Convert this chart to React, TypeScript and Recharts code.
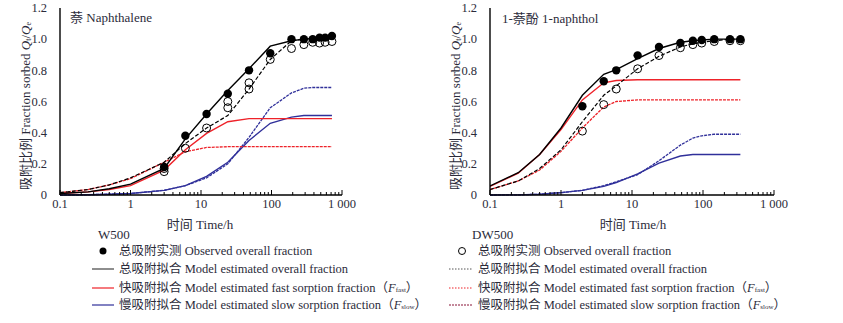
import React from "react";
import { ComposedChart, Line, Scatter, XAxis, YAxis } from "recharts";

const serif = "'Liberation Serif', 'Times New Roman', 'Noto Sans CJK SC', serif";
const ink = "#2b2b3a";
const red = "#ee2229";
const blue = "#30309a";
const maroon = "#8a1538";

const xMajorTicks = [0.1, 1, 10, 100, 1000];
const xMinorTicks = [
  0.2, 0.3, 0.4, 0.5, 0.6, 0.7, 0.8, 0.9,
  2, 3, 4, 5, 6, 7, 8, 9,
  20, 30, 40, 50, 60, 70, 80, 90,
  200, 300, 400, 500, 600, 700, 800, 900,
];
const yTicks = [0, 0.2, 0.4, 0.6, 0.8, 1.0, 1.2];

// 萘 Naphthalene
const napLineTimes = [0.1, 0.25, 0.5, 1, 3, 6, 12, 24, 48, 96, 192, 288, 384, 480, 576, 720];
const napW500Total = [0.01, 0.02, 0.04, 0.07, 0.17, 0.36, 0.52, 0.67, 0.81, 0.955, 0.99, 1.0, 1.005, 1.01, 1.01, 1.015];
const napDW500Total = [0.015, 0.035, 0.065, 0.11, 0.21, 0.33, 0.43, 0.51, 0.68, 0.87, 0.99, 1.0, 1.0, 1.0, 1.0, 1.0];
const napW500Fast = [0.01, 0.02, 0.035, 0.06, 0.16, 0.29, 0.395, 0.47, 0.49, 0.49, 0.49, 0.49, 0.49, 0.49, 0.49, 0.49];
const napDW500Fast = [0.015, 0.035, 0.065, 0.105, 0.21, 0.278, 0.305, 0.31, 0.31, 0.31, 0.31, 0.31, 0.31, 0.31, 0.31, 0.31];
const napW500Slow = [0, 0.002, 0.005, 0.01, 0.03, 0.06, 0.12, 0.21, 0.35, 0.46, 0.5, 0.51, 0.51, 0.51, 0.51, 0.51];
const napDW500Slow = [0, 0.002, 0.005, 0.01, 0.03, 0.06, 0.11, 0.2, 0.37, 0.56, 0.655, 0.685, 0.69, 0.69, 0.69, 0.69];
const napObsW500Times = [3, 6, 12, 24, 48, 96, 192, 288, 384, 480, 576, 720];
const napObsW500 = [0.18, 0.38, 0.52, 0.65, 0.8, 0.91, 1.0, 1.0, 1.0, 1.01, 1.01, 1.02];
const napObsDW500Times = [3, 3, 6, 12, 24, 24, 48, 48, 96, 192, 288, 384, 480, 576, 720];
const napObsDW500 = [0.15, 0.17, 0.3, 0.43, 0.6, 0.56, 0.72, 0.68, 0.87, 0.94, 0.965, 0.98, 0.975, 0.98, 0.985];

// 1-萘酚 1-naphthol
const nolLineTimes = [0.1, 0.25, 0.5, 1, 2, 4, 6, 12, 24, 48, 72, 96, 144, 240, 336];
const nolW500Total = [0.058, 0.143, 0.26, 0.43, 0.64, 0.775, 0.805, 0.875, 0.94, 0.98, 0.99, 0.995, 1.0, 1.0, 1.0];
const nolDW500Total = [0.035, 0.09, 0.17, 0.29, 0.47, 0.64, 0.7, 0.81, 0.89, 0.95, 0.97, 0.98, 0.99, 1.0, 1.0];
const nolW500Fast = [0.055, 0.14, 0.26, 0.42, 0.61, 0.72, 0.735, 0.74, 0.74, 0.74, 0.74, 0.74, 0.74, 0.74, 0.74];
const nolDW500Fast = [0.035, 0.09, 0.16, 0.28, 0.43, 0.565, 0.6, 0.61, 0.61, 0.61, 0.61, 0.61, 0.61, 0.61, 0.61];
const nolW500Slow = [0, 0.001, 0.005, 0.015, 0.03, 0.055, 0.08, 0.135, 0.205, 0.25, 0.26, 0.26, 0.26, 0.26, 0.26];
const nolDW500Slow = [0, 0.001, 0.005, 0.015, 0.03, 0.06, 0.085, 0.13, 0.22, 0.32, 0.365, 0.38, 0.39, 0.39, 0.39];
const nolObsTimes = [2, 4, 6, 12, 24, 48, 72, 96, 144, 240, 336];
const nolObsW500 = [0.57, 0.73, 0.8, 0.896, 0.95, 0.975, 0.99, 0.995, 1.0, 1.0, 1.0];
const nolObsDW500 = [0.41, 0.58, 0.68, 0.81, 0.895, 0.945, 0.965, 0.975, 0.985, 0.99, 0.99];

const rows = (times: number[], cols: Record<string, number[]>) =>
  times.map((t, i) => {
    const r: Record<string, number> = { t };
    for (const k of Object.keys(cols)) r[k] = cols[k][i];
    return r;
  });
const pts = (times: number[], vals: number[]) => times.map((t, i) => ({ t, v: vals[i] }));

const napRows = rows(napLineTimes, {
  wTot: napW500Total, dTot: napDW500Total, wFast: napW500Fast,
  dFast: napDW500Fast, wSlow: napW500Slow, dSlow: napDW500Slow,
});
const nolRows = rows(nolLineTimes, {
  wTot: nolW500Total, dTot: nolDW500Total, wFast: nolW500Fast,
  dFast: nolDW500Fast, wSlow: nolW500Slow, dSlow: nolDW500Slow,
});
const allXTicks = [...xMajorTicks, ...xMinorTicks].sort((a, b) => a - b);

const fmtX = (v: number) => (v === 1000 ? "1 000" : String(v));
const fmtY = (v: number) => (v === 0 ? "0" : v.toFixed(1));

const filledDot = (p: any) => <circle cx={p.cx} cy={p.cy} r={4.2} fill="#000" />;
const openDot = (p: any) => <circle cx={p.cx} cy={p.cy} r={4} fill="none" stroke="#000" strokeWidth={1} />;

// x ticks point up into the plot; only decades get a label
const XTick = (p: any) => {
  const v = p.payload.value;
  const major = xMajorTicks.includes(v);
  return (
    <g>
      <line x1={p.x} x2={p.x} y1={p.y} y2={p.y - (major ? 5 : 3)} stroke="#000" strokeWidth={1} />
      {major && (
        <text x={p.x} y={p.y + 4} dy="0.72em" textAnchor="middle" fontSize={12.5} fontFamily={serif} fill={ink}>
          {fmtX(v)}
        </text>
      )}
    </g>
  );
};
const YTick = (p: any) => (
  <text x={p.x} y={p.y} dy="0.34em" textAnchor="end" fontSize={12.5} fontFamily={serif} fill={ink}>
    {fmtY(p.payload.value)}
  </text>
);

function Panel({ width, yWidth, data, filled, open }: any) {
  return (
    <ComposedChart width={width} height={225} data={data} margin={{ top: 8, right: 18, left: 0, bottom: 0 }}>
      <XAxis dataKey="t" type="number" scale="log" domain={[0.1, 1000]} allowDataOverflow
        ticks={allXTicks} interval={0} tickLine={false} tickSize={0} tickMargin={0} height={30}
        stroke="#000" strokeWidth={1.4} tick={XTick} />
      <YAxis type="number" domain={[0, 1.2]} ticks={yTicks} interval={0}
        width={yWidth} tickLine={false} tickMargin={7} stroke="#000" strokeWidth={1.4} tick={YTick} />
      <Line dataKey="dSlow" type="linear" stroke={blue} strokeWidth={1.3} strokeDasharray="3 1" dot={false} isAnimationActive={false} />
      <Line dataKey="wSlow" type="linear" stroke={blue} strokeWidth={1.4} dot={false} isAnimationActive={false} />
      <Line dataKey="dFast" type="linear" stroke={red} strokeWidth={1.3} strokeDasharray="3 1" dot={false} isAnimationActive={false} />
      <Line dataKey="wFast" type="linear" stroke={red} strokeWidth={1.4} dot={false} isAnimationActive={false} />
      <Line dataKey="dTot" type="linear" stroke="#000" strokeWidth={1.2} strokeDasharray="4 2" dot={false} isAnimationActive={false} />
      <Line dataKey="wTot" type="linear" stroke="#000" strokeWidth={1.4} dot={false} isAnimationActive={false} />
      <Scatter data={filled} dataKey="v" shape={filledDot} isAnimationActive={false} />
      <Scatter data={open} dataKey="v" shape={openDot} isAnimationActive={false} />
    </ComposedChart>
  );
}

function YTitle({ x, y }: { x: number; y: number }) {
  return (
    <text x={x} y={y} transform={`rotate(-90 ${x} ${y})`} textAnchor="middle" dominantBaseline="central"
      fontSize={13} fill={ink}>
      吸附比例 Fraction sorbed <tspan fontStyle="italic">Q</tspan>
      <tspan fontSize={8} dy={3}>t</tspan>
      <tspan dy={-3}>/</tspan>
      <tspan fontStyle="italic">Q</tspan>
      <tspan fontSize={8} dy={3}>e</tspan>
    </text>
  );
}

function Sub({ name }: { name: string }) {
  return (
    <>
      （<tspan fontStyle="italic">F</tspan>
      <tspan fontSize={7} dy={2}>{name}</tspan>
      <tspan dy={-2}>）</tspan>
    </>
  );
}

const rowsY = [251, 269, 288, 305];

export default function App() {
  return (
    <div style={{ position: "absolute", left: 0, top: 0, width: 843, height: 323, background: "#fff", fontFamily: serif }}>
      <div style={{ position: "absolute", left: 0, top: 0 }}>
        <Panel width={360} yWidth={60} data={napRows}
          filled={pts(napObsW500Times, napObsW500)} open={pts(napObsDW500Times, napObsDW500)} />
      </div>
      <div style={{ position: "absolute", left: 420, top: 0 }}>
        <Panel width={372} yWidth={70} data={nolRows}
          filled={pts(nolObsTimes, nolObsW500)} open={pts(nolObsTimes, nolObsDW500)} />
      </div>
      <svg width={843} height={323} style={{ position: "absolute", left: 0, top: 0, pointerEvents: "none" }}
        fontFamily={serif} fill={ink}>
        <YTitle x={25} y={106} />
        <YTitle x={455} y={106} />
        <text x={70} y={17} fontSize={13} dominantBaseline="central">萘 Naphthalene</text>
        <text x={502} y={18} fontSize={13} dominantBaseline="central">1-萘酚 1-naphthol</text>
        <text x={200} y={224} fontSize={13} textAnchor="middle" dominantBaseline="central">时间 Time/h</text>
        <text x={633} y={224} fontSize={13} textAnchor="middle" dominantBaseline="central">时间 Time/h</text>
        <text x={98} y={234} fontSize={13} dominantBaseline="central">W500</text>
        <text x={472} y={234} fontSize={13} dominantBaseline="central">DW500</text>

        <circle cx={103} cy={rowsY[0]} r={3.5} fill="#000" />
        <line x1={92} x2={114} y1={rowsY[1]} y2={rowsY[1]} stroke="#444" strokeWidth={1.2} />
        <line x1={92} x2={114} y1={rowsY[2]} y2={rowsY[2]} stroke={red} strokeWidth={1.2} />
        <line x1={92} x2={114} y1={rowsY[3]} y2={rowsY[3]} stroke={blue} strokeWidth={1.2} />
        <g fontSize={12.5}>
          <text x={119} y={rowsY[0]} dominantBaseline="central">总吸附实测 Observed overall fraction</text>
          <text x={119} y={rowsY[1]} dominantBaseline="central">总吸附拟合 Model estimated overall fraction</text>
          <text x={119} y={rowsY[2]} dominantBaseline="central">快吸附拟合 Model estimated fast sorption fraction<Sub name="fast" /></text>
          <text x={119} y={rowsY[3]} dominantBaseline="central">慢吸附拟合 Model estimated slow sorption fraction<Sub name="slow" /></text>
        </g>

        <circle cx={462} cy={rowsY[0]} r={3.5} fill="none" stroke="#000" strokeWidth={1} />
        <line x1={449} x2={473} y1={rowsY[1]} y2={rowsY[1]} stroke="#555" strokeWidth={1} strokeDasharray="1.5 1.5" />
        <line x1={449} x2={473} y1={rowsY[2]} y2={rowsY[2]} stroke={red} strokeWidth={1} strokeDasharray="1.5 1.5" />
        <line x1={449} x2={473} y1={rowsY[3]} y2={rowsY[3]} stroke={maroon} strokeWidth={1.2} strokeDasharray="2 1" />
        <g fontSize={12.5}>
          <text x={478} y={rowsY[0]} dominantBaseline="central">总吸附实测 Observed overall fraction</text>
          <text x={478} y={rowsY[1]} dominantBaseline="central">总吸附拟合 Model estimated overall fraction</text>
          <text x={478} y={rowsY[2]} dominantBaseline="central">快吸附拟合 Model estimated fast sorption fraction<Sub name="fast" /></text>
          <text x={478} y={rowsY[3]} dominantBaseline="central">慢吸附拟合 Model estimated slow sorption fraction<Sub name="slow" /></text>
        </g>
      </svg>
    </div>
  );
}
